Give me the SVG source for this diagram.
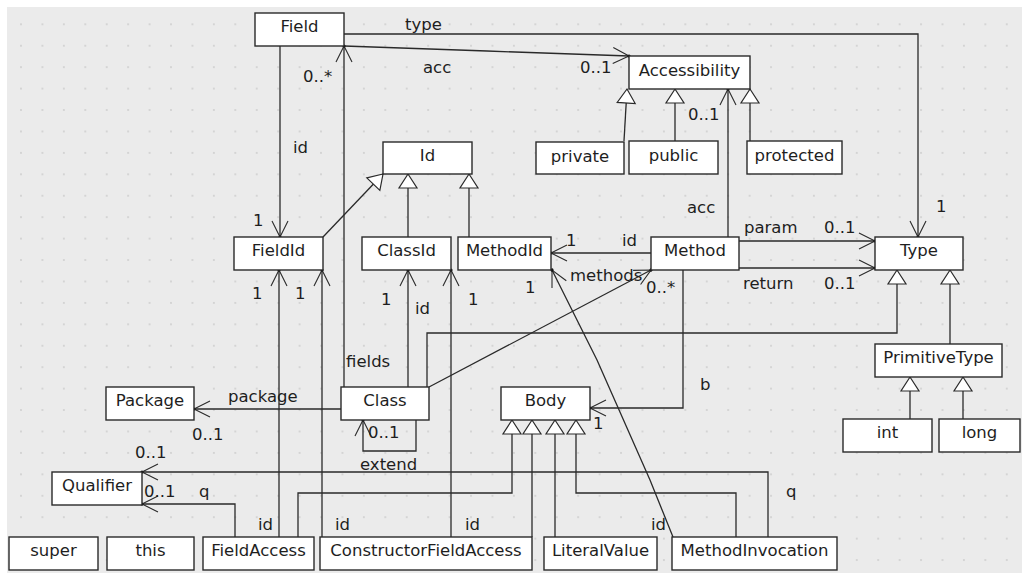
<svg xmlns="http://www.w3.org/2000/svg" width="1022" height="573" viewBox="0 0 1022 573">
<defs>
<pattern id="dots" patternUnits="userSpaceOnUse" x="10.3" y="13.6" width="21.43" height="21.43">
<rect x="9.9" y="9.9" width="1.6" height="1.6" fill="#c9c9c9"/>
</pattern>
<marker id="arr" markerUnits="userSpaceOnUse" markerWidth="40" markerHeight="40" viewBox="-20 -20 40 40" refX="0" refY="0" orient="auto">
<path d="M-16,-8 L0,0 L-16,8" fill="none" stroke="#2a2a2a" stroke-width="1.1"/>
<circle cx="0" cy="0" r="1.6" fill="#111"/>
</marker>
<marker id="gen" markerUnits="userSpaceOnUse" markerWidth="40" markerHeight="40" viewBox="-20 -20 40 40" refX="0" refY="0" orient="auto">
<path d="M0,0 L-14,-9 L-14,9 Z" fill="#fff" stroke="#2a2a2a" stroke-width="1.2"/>
</marker>
</defs>
<style>
.bg{fill:#ebebeb}
.box{fill:#fff;stroke:#2a2a2a;stroke-width:1.4}
.t{font-family:"DejaVu Sans","Liberation Sans",sans-serif;font-size:16.5px;fill:#1e1e1e}
.c{text-anchor:middle}
.ln{fill:none;stroke:#2a2a2a;stroke-width:1.3}
.a{marker-end:url(#arr)}
.g{marker-end:url(#gen)}
</style>
<rect width="1022" height="573" fill="#fff"/>
<rect x="7" y="7" width="1015" height="566" class="bg"/>
<rect x="7" y="7" width="1015" height="566" fill="url(#dots)"/>

<g id="connectors">
<path class="ln a" d="M344,34 H918 V237"/>
<path class="ln a" d="M344,46 L487,51 L629,56"/>
<path class="ln a" d="M344,387 V46"/>
<path class="ln a" d="M280,46 V237"/>
<path class="ln g" d="M323,237 L383,174"/>
<path class="ln g" d="M408,237 V174"/>
<path class="ln g" d="M469,237 V174"/>
<path class="ln g" d="M624,141 L627,89"/>
<path class="ln g" d="M675,141 V89"/>
<path class="ln g" d="M750,141 V89"/>
<path class="ln a" d="M728,237 V89"/>
<path class="ln a" d="M651,253 H551"/>
<path class="ln a" d="M429,387 L651,270"/>
<path class="ln a" d="M673,537 L650,480 L597,360 L552,270"/>
<path class="ln a" d="M739,241 H875"/>
<path class="ln a" d="M739,268 H875"/>
<path class="ln a" d="M683,270 V408 H590"/>
<path class="ln g" d="M427,387 V333 H897 V270"/>
<path class="ln g" d="M950,344 V270"/>
<path class="ln g" d="M910,419 V377"/>
<path class="ln g" d="M963,419 V377"/>
<path class="ln a" d="M408,387 V270"/>
<path class="ln a" d="M451,537 V270"/>
<path class="ln a" d="M279,537 V270"/>
<path class="ln a" d="M322,537 V270"/>
<path class="ln a" d="M341,409 H194"/>
<path class="ln a" d="M416,420 V451 H363 V420"/>
<path class="ln a" d="M768,537 V472 H142"/>
<path class="ln a" d="M235,537 V504 H142"/>
<path class="ln g" d="M298,537 V493 H512 V420"/>
<path class="ln g" d="M532,537 V420"/>
<path class="ln g" d="M555,537 V420"/>
<path class="ln g" d="M736,537 V493 H576 V420"/>
</g>

<g id="labels" class="t">
<text x="405" y="30">type</text>
<text x="423" y="73">acc</text>
<text x="580" y="73">0..1</text>
<text x="303" y="82">0..*</text>
<text x="293" y="153">id</text>
<text x="253" y="226">1</text>
<text x="936" y="212">1</text>
<text x="688" y="120">0..1</text>
<text x="687" y="213">acc</text>
<text x="744" y="233">param</text>
<text x="824" y="233">0..1</text>
<text x="743" y="289">return</text>
<text x="824" y="289">0..1</text>
<text x="566" y="246">1</text>
<text x="622" y="246">id</text>
<text x="570" y="281">methods</text>
<text x="646" y="293">0..*</text>
<text x="525" y="293">1</text>
<text x="252" y="299">1</text>
<text x="295" y="299">1</text>
<text x="381" y="305">1</text>
<text x="468" y="305">1</text>
<text x="415" y="314">id</text>
<text x="346" y="367">fields</text>
<text x="228" y="402">package</text>
<text x="192" y="440">0..1</text>
<text x="368" y="438">0..1</text>
<text x="360" y="470">extend</text>
<text x="700" y="390">b</text>
<text x="593" y="429">1</text>
<text x="135" y="458">0..1</text>
<text x="144" y="497">0..1</text>
<text x="199" y="497">q</text>
<text x="258" y="530">id</text>
<text x="335" y="530">id</text>
<text x="465" y="530">id</text>
<text x="651" y="530">id</text>
<text x="786" y="497">q</text>
</g>

<g id="Field"><rect class="box" x="255" y="13" width="89" height="33"/><text class="t c" x="299.5" y="32">Field</text></g>
<g id="Accessibility"><rect class="box" x="629" y="56" width="121" height="33"/><text class="t c" x="689.5" y="76">Accessibility</text></g>
<g id="private"><rect class="box" x="536" y="142" width="88" height="32"/><text class="t c" x="580" y="162">private</text></g>
<g id="public"><rect class="box" x="629" y="141" width="89" height="33"/><text class="t c" x="673.5" y="161">public</text></g>
<g id="protected"><rect class="box" x="747" y="141" width="95" height="33"/><text class="t c" x="794.5" y="161">protected</text></g>
<g id="Id"><rect class="box" x="383" y="142" width="89" height="32"/><text class="t c" x="427.5" y="161">Id</text></g>
<g id="FieldId"><rect class="box" x="234" y="237" width="89" height="33"/><text class="t c" x="278.5" y="256">FieldId</text></g>
<g id="ClassId"><rect class="box" x="362" y="237" width="89" height="33"/><text class="t c" x="406.5" y="256">ClassId</text></g>
<g id="MethodId"><rect class="box" x="458" y="237" width="93" height="33"/><text class="t c" x="504.5" y="256">MethodId</text></g>
<g id="Method"><rect class="box" x="651" y="237" width="88" height="33"/><text class="t c" x="695" y="256">Method</text></g>
<g id="Type"><rect class="box" x="875" y="237" width="88" height="33"/><text class="t c" x="919" y="256">Type</text></g>
<g id="PrimitiveType"><rect class="box" x="875" y="344" width="127" height="33"/><text class="t c" x="938.5" y="363">PrimitiveType</text></g>
<g id="int"><rect class="box" x="843" y="419" width="89" height="33"/><text class="t c" x="887.5" y="438">int</text></g>
<g id="long"><rect class="box" x="939" y="419" width="81" height="33"/><text class="t c" x="979.5" y="438">long</text></g>
<g id="Package"><rect class="box" x="106" y="387" width="88" height="33"/><text class="t c" x="150" y="406">Package</text></g>
<g id="Class"><rect class="box" x="341" y="387" width="88" height="33"/><text class="t c" x="385" y="406">Class</text></g>
<g id="Body"><rect class="box" x="501" y="387" width="89" height="33"/><text class="t c" x="545.5" y="406">Body</text></g>
<g id="Qualifier"><rect class="box" x="52" y="472" width="90" height="33"/><text class="t c" x="97" y="491">Qualifier</text></g>
<g id="super"><rect class="box" x="9" y="537" width="89" height="33"/><text class="t c" x="53.5" y="556">super</text></g>
<g id="this"><rect class="box" x="107" y="537" width="87" height="33"/><text class="t c" x="150.5" y="556">this</text></g>
<g id="FieldAccess"><rect class="box" x="203" y="537" width="111" height="33"/><text class="t c" x="258.5" y="556">FieldAccess</text></g>
<g id="ConstructorFieldAccess"><rect class="box" x="320" y="537" width="212" height="33"/><text class="t c" x="426" y="556">ConstructorFieldAccess</text></g>
<g id="LiteralValue"><rect class="box" x="544" y="537" width="113" height="33"/><text class="t c" x="600.5" y="556">LiteralValue</text></g>
<g id="MethodInvocation"><rect class="box" x="672" y="537" width="165" height="33"/><text class="t c" x="754.5" y="556">MethodInvocation</text></g>
</svg>
